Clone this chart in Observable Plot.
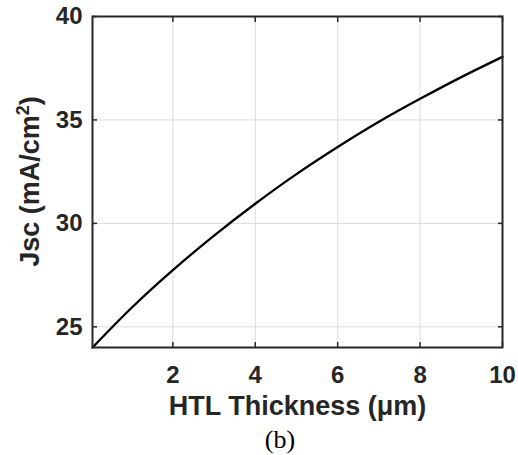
<!DOCTYPE html>
<html>
<head>
<meta charset="utf-8">
<script src="https://cdn.jsdelivr.net/npm/d3@7"></script>
<script src="https://cdn.jsdelivr.net/npm/@observablehq/plot@0.6"></script>
<style>
  body { margin: 0; background: #fff; }
  #chart { width: 518px; }
  #cap { width: 518px; box-sizing: border-box; padding-left: 42px; text-align: center;
         font-family: "Liberation Serif", "Times New Roman", serif; font-size: 26px; line-height: 30px; color: #000; }
</style>
</head>
<body>
<div id="chart"></div>
<div id="cap">(b)</div>
<script>
const thickness = [0.05, 1, 2, 3, 4, 5, 6, 7, 8, 9, 10];
const jsc = [24.0, 25.92, 27.74, 29.41, 30.95, 32.38, 33.69, 34.91, 36.02, 37.07, 38.05];
const xTicks = [2, 4, 6, 8, 10];
const yTicks = [25, 30, 35, 40];
const xLabel = "HTL Thickness (\u03bcm)";

const data = thickness.map((t, i) => ({t, j: jsc[i]}));
const ink = "#262626";
const font = "'Liberation Sans', Arial, Helvetica, sans-serif";

const plot = Plot.plot({
  width: 518,
  height: 425,
  marginLeft: 92,
  marginRight: 16,
  marginTop: 16,
  marginBottom: 78,
  style: {fontFamily: font, color: ink, background: "#fff"},
  x: {domain: [0.05, 10]},
  y: {domain: [24, 40]},
  marks: [
    Plot.gridX(xTicks, {stroke: "#dcdcdc", strokeOpacity: 1, strokeWidth: 1}),
    Plot.gridY(yTicks, {stroke: "#dcdcdc", strokeOpacity: 1, strokeWidth: 1}),
    Plot.axisX(xTicks, {tickSize: 0, tickPadding: 18, fontSize: 24, fill: ink, label: null}),
    Plot.axisX(xTicks, {tickSize: -5, text: null, stroke: ink, strokeWidth: 1.5, label: null}),
    Plot.axisX(xTicks, {anchor: "top", tickSize: -5, text: null, stroke: ink, strokeWidth: 1.5, label: null}),
    Plot.axisY(yTicks, {tickSize: 0, tickPadding: 10, fontSize: 24, fill: ink, label: null}),
    Plot.axisY(yTicks, {tickSize: -5, text: null, stroke: ink, strokeWidth: 1.5, label: null}),
    Plot.axisY(yTicks, {anchor: "right", tickSize: -5, text: null, stroke: ink, strokeWidth: 1.5, label: null}),
    Plot.line(data, {x: "t", y: "j", stroke: "#000", strokeWidth: 2.3, curve: "natural"}),
    Plot.frame({stroke: ink, strokeWidth: 2}),
    Plot.text([xLabel], {frameAnchor: "bottom", dy: 59, text: d => d, fontSize: 27, fill: ink, lineAnchor: "middle"})
  ]
});
document.getElementById("chart").appendChild(plot);

const svg = d3.select(plot);
svg.selectAll("text").filter(function() { return this.textContent === ""; }).remove();
svg.selectAll("text").attr("font-weight", "bold").style("font-weight", "bold");

// y-axis label with superscript
const yl = svg.append("text")
  .attr("transform", "translate(30,181.5) rotate(-90)")
  .attr("text-anchor", "middle")
  .attr("dy", "0.35em")
  .attr("font-family", font)
  .attr("font-size", 27)
  .attr("font-weight", "bold")
  .attr("fill", ink);
yl.append("tspan").text("Jsc (mA/cm");
yl.append("tspan").attr("font-size", 18).attr("dy", "-0.6em").text("2");
yl.append("tspan").attr("dy", "0.4em").text(")");
</script>
</body>
</html>
